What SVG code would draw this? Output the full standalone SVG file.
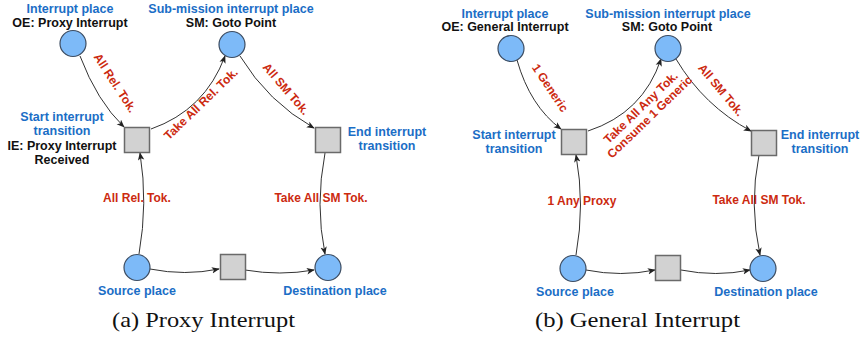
<svg xmlns="http://www.w3.org/2000/svg" width="860" height="341" viewBox="0 0 860 341">
  <defs>
    <marker id="arrow" viewBox="0 0 10 8" refX="9" refY="4" markerWidth="8" markerHeight="7" markerUnits="userSpaceOnUse" orient="auto">
      <path d="M0,0 L10,4 L0,8 L2.5,4 Z" fill="#222"/>
    </marker>
  </defs>
  <style>
    .place { fill: #7dbaf8; stroke: #3d4d62; stroke-width: 1.2; }
    .trans { fill: #d2d2d2; stroke: #6a6a6a; stroke-width: 1.5; }
    .edge { fill: none; stroke: #333; stroke-width: 1; marker-end: url(#arrow); }
    .name { font-family: "Liberation Sans", Arial, sans-serif; font-weight: bold; font-size: 12.5px; fill: #1b6ec6; text-anchor: middle; }
    .info { font-family: "Liberation Sans", Arial, sans-serif; font-weight: bold; font-size: 12.5px; fill: #111; text-anchor: middle; }
    .lbl { font-family: "Liberation Sans", Arial, sans-serif; font-weight: bold; font-size: 12px; fill: #cc2a10; text-anchor: middle; }
    .cap { font-family: "Liberation Serif", "Times New Roman", serif; font-size: 21px; fill: #111; text-anchor: middle; }
  </style>
  <rect width="860" height="341" fill="#fff"/>

  <!-- (a) Proxy Interrupt -->
  <g id="connectors-a">
    <path class="edge" d="M80,56 Q97,101 124,127"/>
    <path class="edge" d="M151,129 Q205,110 225,56"/>
    <path class="edge" d="M240,56 Q268,102 314,128"/>
    <path class="edge" d="M325,153 Q315,205 325,254"/>
    <path class="edge" d="M139,254 Q148,203 140,153"/>
    <path class="edge" d="M150,269 Q185,276 219,269"/>
    <path class="edge" d="M245,270 Q280,276 314,270"/>
  </g>
  <g id="labels-a">
    <text class="lbl" transform="translate(115,83) rotate(57)" y="4">All Rel. Tok.</text>
    <text class="lbl" transform="translate(201,104) rotate(-44)" y="4">Take All Rel. Tok.</text>
    <text class="lbl" transform="translate(286,89) rotate(49)" y="4">All SM Tok.</text>
    <text class="lbl" x="137" y="202">All Rel. Tok.</text>
    <text class="lbl" x="321" y="202">Take All SM Tok.</text>
  </g>
  <g id="a-interrupt-place">
    <circle class="place" cx="73" cy="43.5" r="13"/>
    <text class="name" x="70" y="12.5">Interrupt place</text>
    <text class="info" x="70" y="26.5">OE: Proxy Interrupt</text>
  </g>
  <g id="a-submission-place">
    <circle class="place" cx="232" cy="44.5" r="13"/>
    <text class="name" x="231" y="12.5">Sub-mission interrupt place</text>
    <text class="info" x="231" y="26.5">SM: Goto Point</text>
  </g>
  <g id="a-start-transition">
    <rect class="trans" x="124.5" y="127.5" width="25" height="25"/>
    <text class="name" x="62" y="121">Start interrupt</text>
    <text class="name" x="62" y="135">transition</text>
    <text class="info" x="62" y="149.5">IE: Proxy Interrupt</text>
    <text class="info" x="62" y="163.5">Received</text>
  </g>
  <g id="a-end-transition">
    <rect class="trans" x="315.5" y="127.5" width="25" height="25"/>
    <text class="name" x="387" y="136">End interrupt</text>
    <text class="name" x="387" y="150">transition</text>
  </g>
  <g id="a-source-place">
    <circle class="place" cx="137" cy="267.5" r="13"/>
    <text class="name" x="137" y="295">Source place</text>
  </g>
  <g id="a-middle-transition">
    <rect class="trans" x="220.5" y="254.5" width="25" height="25"/>
  </g>
  <g id="a-destination-place">
    <circle class="place" cx="328" cy="267.5" r="13"/>
    <text class="name" x="335" y="295">Destination place</text>
  </g>
  <text class="cap" x="203.5" y="327" textLength="183" lengthAdjust="spacingAndGlyphs">(a) Proxy Interrupt</text>

  <!-- (b) General Interrupt -->
  <g id="connectors-b">
    <path class="edge" d="M517,60 Q530,106 561,129"/>
    <path class="edge" d="M588,131 Q643,113 661,59"/>
    <path class="edge" d="M676,59 Q704,106 751,131"/>
    <path class="edge" d="M759,155 Q749,205 760,255"/>
    <path class="edge" d="M576,255 Q585,205 576,155"/>
    <path class="edge" d="M586,270 Q621,277 655,270"/>
    <path class="edge" d="M681,270 Q716,277 750,270"/>
  </g>
  <g id="labels-b">
    <text class="lbl" transform="translate(550,88) rotate(56)" y="4">1 Generic</text>
    <g transform="translate(645,112) rotate(-44)">
      <text class="lbl" y="-2">Take All Any Tok.</text>
      <text class="lbl" y="11">Consume 1 Generic</text>
    </g>
    <text class="lbl" transform="translate(721,90) rotate(50)" y="4">All SM Tok.</text>
    <text class="lbl" x="582" y="205">1 Any Proxy</text>
    <text class="lbl" x="759" y="204">Take All SM Tok.</text>
  </g>
  <g id="b-interrupt-place">
    <circle class="place" cx="511" cy="48.5" r="13"/>
    <text class="name" x="505" y="17.5">Interrupt place</text>
    <text class="info" x="505" y="31">OE: General Interrupt</text>
  </g>
  <g id="b-submission-place">
    <circle class="place" cx="668" cy="48.5" r="13"/>
    <text class="name" x="668" y="17.5">Sub-mission interrupt place</text>
    <text class="info" x="667" y="31">SM: Goto Point</text>
  </g>
  <g id="b-start-transition">
    <rect class="trans" x="561.5" y="129.5" width="25" height="25"/>
    <text class="name" x="514" y="139">Start interrupt</text>
    <text class="name" x="514" y="153">transition</text>
  </g>
  <g id="b-end-transition">
    <rect class="trans" x="751.5" y="130.5" width="25" height="25"/>
    <text class="name" x="820" y="139">End interrupt</text>
    <text class="name" x="820" y="153">transition</text>
  </g>
  <g id="b-source-place">
    <circle class="place" cx="573" cy="268.5" r="13"/>
    <text class="name" x="575" y="296">Source place</text>
  </g>
  <g id="b-middle-transition">
    <rect class="trans" x="655.5" y="255.5" width="25" height="25"/>
  </g>
  <g id="b-destination-place">
    <circle class="place" cx="763" cy="268.5" r="13"/>
    <text class="name" x="766" y="296">Destination place</text>
  </g>
  <text class="cap" x="637.5" y="327" textLength="205" lengthAdjust="spacingAndGlyphs">(b) General Interrupt</text>
</svg>
